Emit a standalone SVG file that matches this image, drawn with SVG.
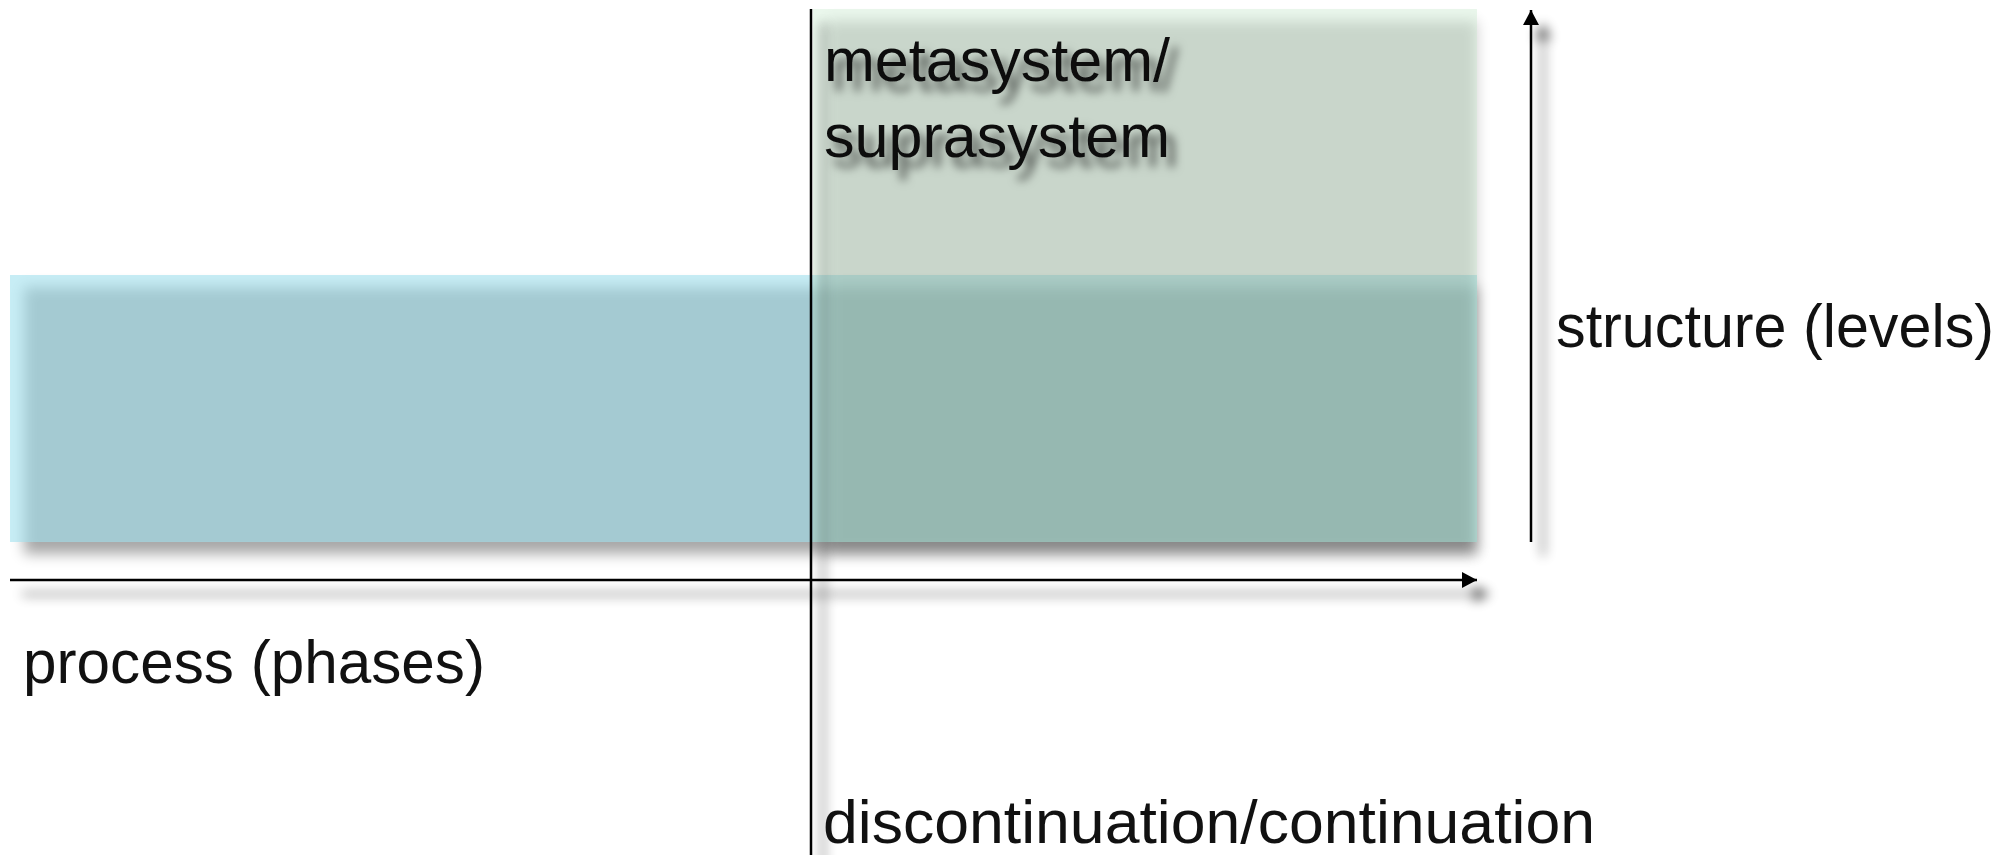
<svg xmlns="http://www.w3.org/2000/svg" width="2006" height="855" viewBox="0 0 2006 855">
<defs>
<style>
text { font-family: "Liberation Sans", Arial, Helvetica, sans-serif; font-size: 61px; fill: #111; }
.ax { stroke: #000; stroke-width: 2.5; fill: none; }
.sh { opacity: 0.7; filter: url(#lblur); }
</style>
<filter id="rblur" filterUnits="userSpaceOnUse" x="0" y="0" width="2006" height="855"><feGaussianBlur stdDeviation="7"/></filter>
<filter id="lblur" filterUnits="userSpaceOnUse" x="0" y="0" width="2006" height="855"><feGaussianBlur stdDeviation="6"/></filter>
<filter id="tshadow" filterUnits="userSpaceOnUse" x="0" y="0" width="2006" height="855">
<feGaussianBlur in="SourceAlpha" stdDeviation="5" result="b"/>
<feOffset in="b" dx="8" dy="10" result="o"/>
<feFlood flood-color="#000" flood-opacity="0.6"/>
<feComposite in2="o" operator="in" result="s"/>
<feMerge><feMergeNode in="s"/><feMergeNode in="SourceGraphic"/></feMerge>
</filter>
<marker id="ah" markerUnits="userSpaceOnUse" markerWidth="16" markerHeight="16" refX="15" refY="8" orient="auto" overflow="visible"><path d="M0,0 L15,8 L0,16 z" fill="#000"/></marker>
</defs>
<rect width="2006" height="855" fill="#fff"/>
<g id="process-band">
<rect x="24" y="287" width="1453" height="267" fill="#000" opacity="0.34" filter="url(#rblur)"/>
<rect x="10" y="275" width="1467" height="267" fill="rgb(162,225,238)" fill-opacity="0.6"/>
</g>
<g id="metasystem">
<rect x="827" y="21" width="650" height="533" fill="#000" opacity="0.19" filter="url(#rblur)"/>
<rect x="813" y="9" width="664" height="533" fill="rgb(191,231,197)" fill-opacity="0.32"/>
<g filter="url(#tshadow)">
<text x="824" y="81" textLength="346" lengthAdjust="spacingAndGlyphs">metasystem/</text>
<text x="824" y="157" textLength="346" lengthAdjust="spacingAndGlyphs">suprasystem</text>
</g>
</g>
<g id="connectors">
<g class="sh" transform="translate(12,14)">
<path class="ax" d="M811,9 V855"/>
<path class="ax" d="M10,580 H1477" marker-end="url(#ah)"/>
<path class="ax" d="M1531,542 V10" marker-end="url(#ah)"/>
</g>
<path class="ax" d="M811,9 V855"/>
<path class="ax" d="M10,580 H1477" marker-end="url(#ah)"/>
<path class="ax" d="M1531,542 V10" marker-end="url(#ah)"/>
</g>
<g id="labels">
<text x="1556" y="347" textLength="438" lengthAdjust="spacingAndGlyphs">structure (levels)</text>
<text x="23" y="683" textLength="462" lengthAdjust="spacingAndGlyphs">process (phases)</text>
<text x="823" y="843" textLength="772" lengthAdjust="spacingAndGlyphs">discontinuation/continuation</text>
</g>
</svg>
